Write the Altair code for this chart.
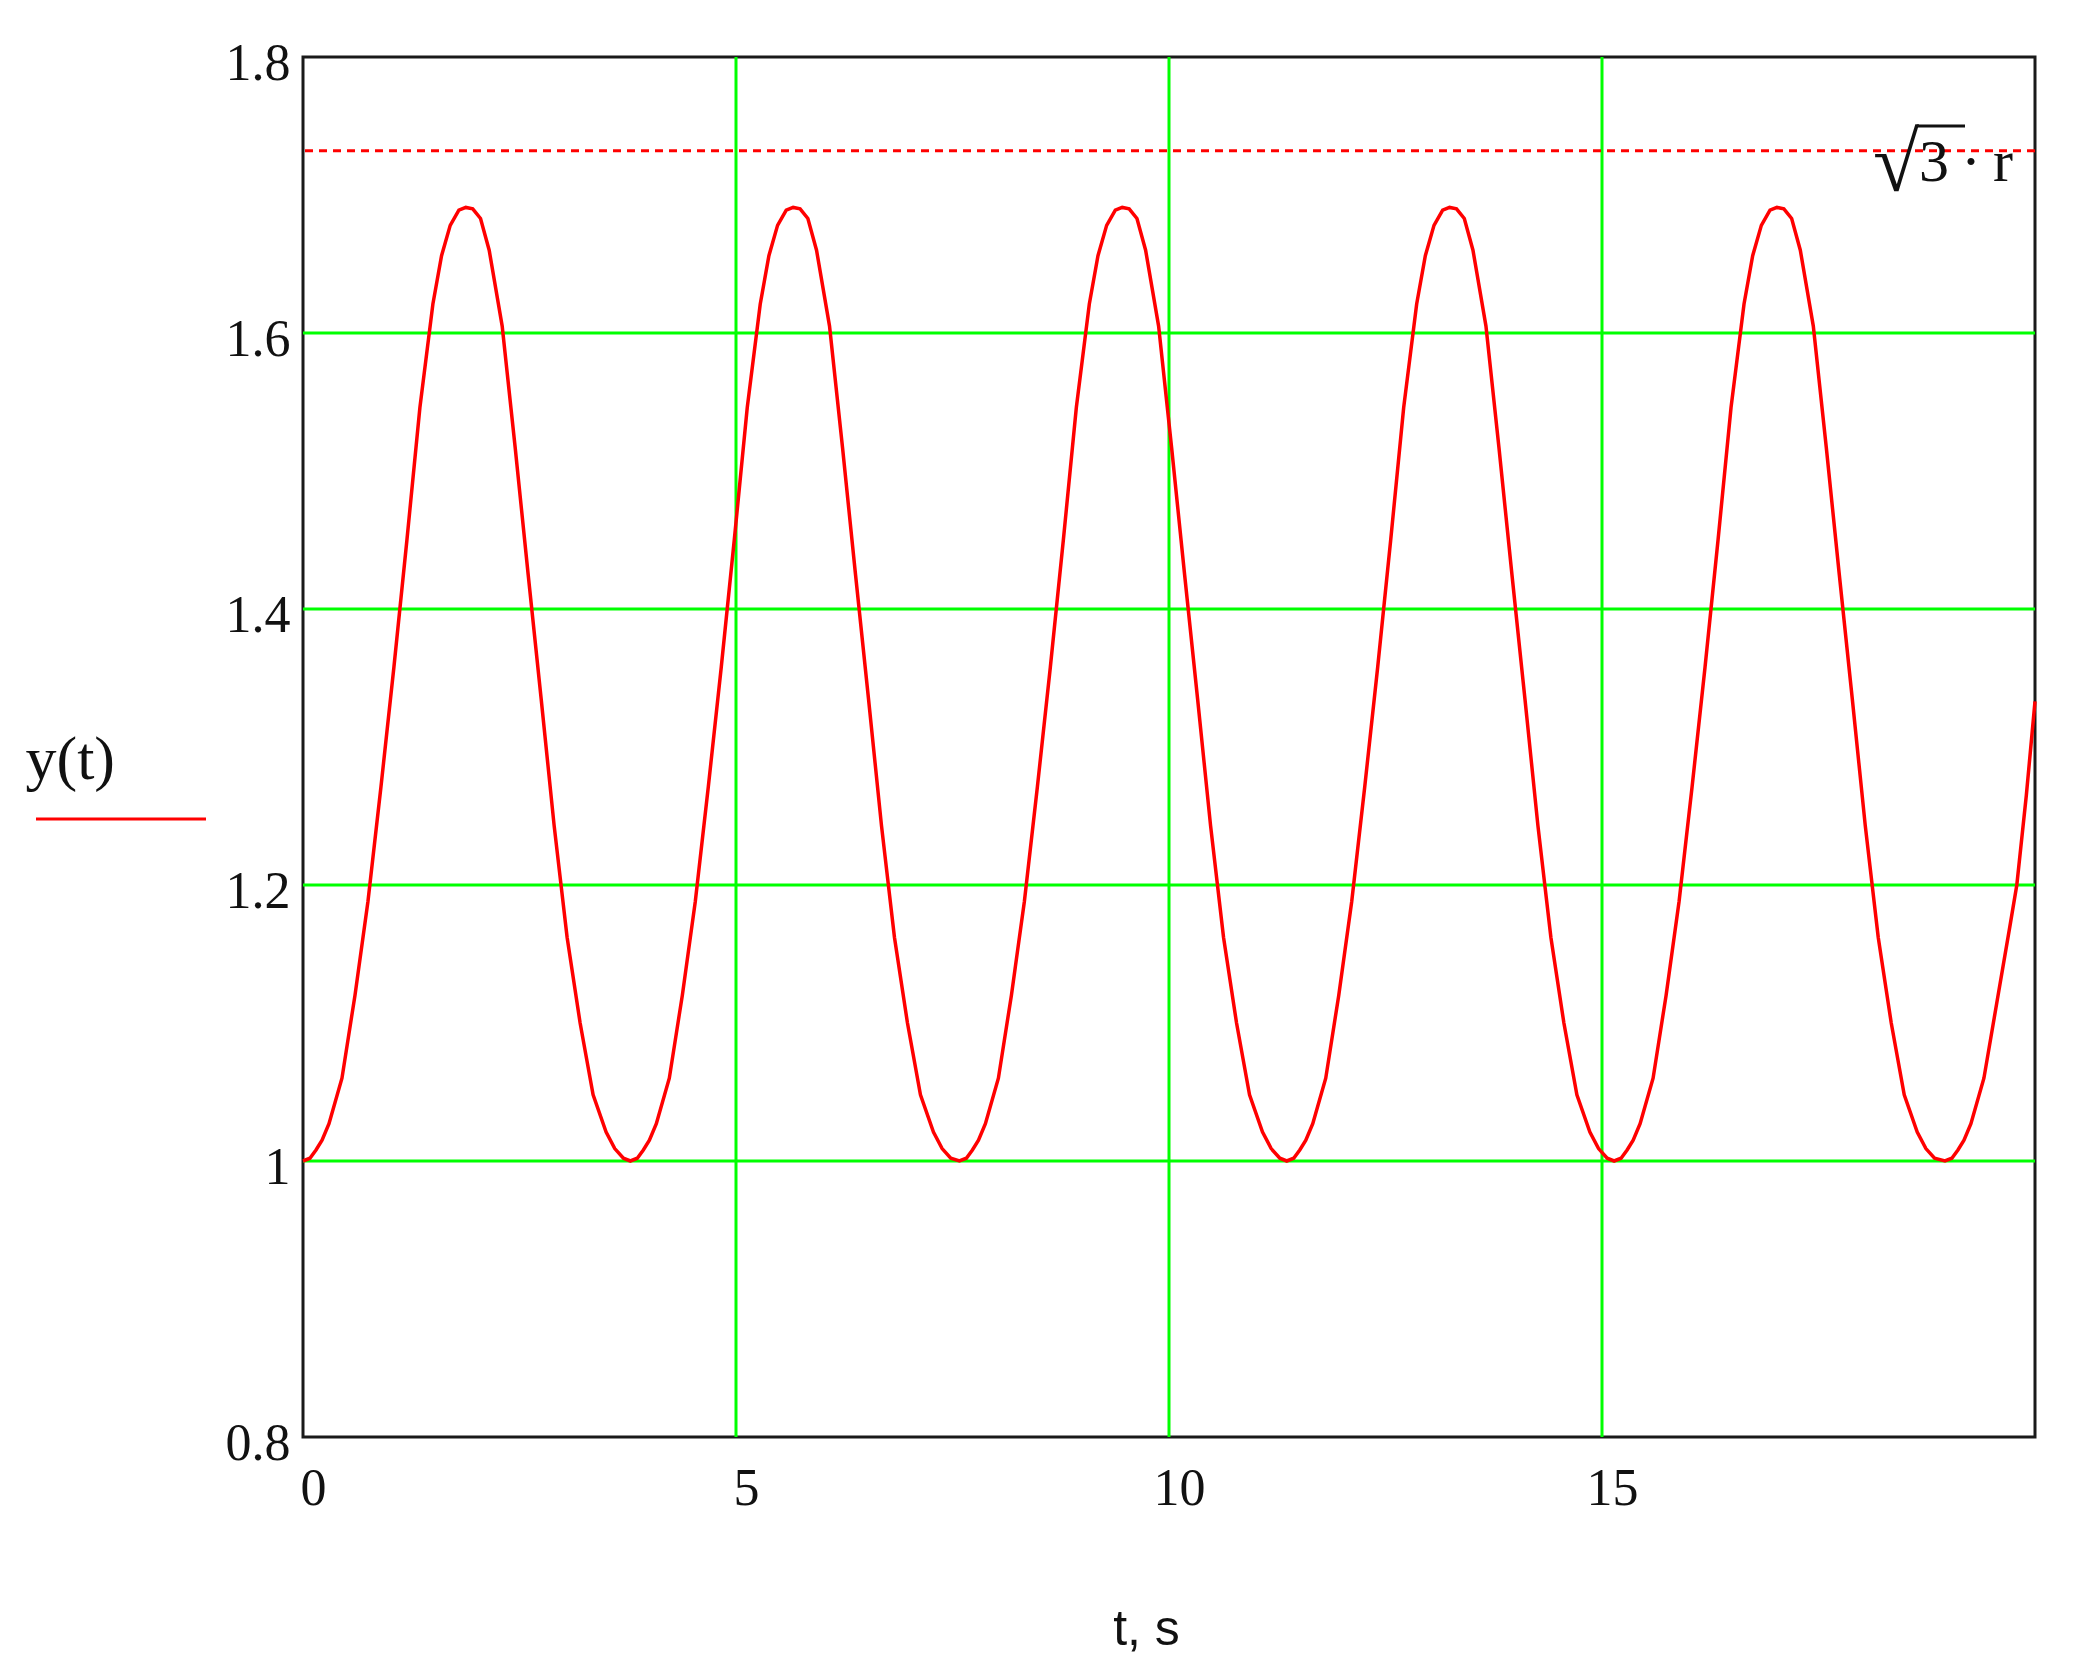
import altair as alt
import pandas as pd

# y(t) (cycle minima near 0, 3.78, 7.58, 11.36, 15.14, 18.96)
t_vals = [
    0.00, 0.08, 0.15, 0.22, 0.30, 0.45, 0.60, 0.75, 0.90, 1.05, 1.20, 1.35, 1.50, 1.60, 1.70, 1.80, 1.88, 1.96, 2.05, 2.15, 2.30, 2.45, 2.60, 2.75, 2.90, 3.05, 3.20, 3.35, 3.50, 3.60, 3.70,
    3.78, 3.86, 3.93, 4.00, 4.08, 4.23, 4.38, 4.53, 4.68, 4.83, 4.98, 5.13, 5.28, 5.38, 5.48, 5.58, 5.66, 5.74, 5.83, 5.93, 6.08, 6.23, 6.38, 6.53, 6.68, 6.83, 6.98, 7.13, 7.28, 7.38, 7.48,
    7.58, 7.66, 7.73, 7.80, 7.88, 8.03, 8.18, 8.33, 8.48, 8.63, 8.78, 8.93, 9.08, 9.18, 9.28, 9.38, 9.46, 9.54, 9.63, 9.73, 9.88, 10.03, 10.18, 10.33, 10.48, 10.63, 10.78, 10.93, 11.08, 11.18, 11.28,
    11.36, 11.44, 11.51, 11.58, 11.66, 11.81, 11.96, 12.11, 12.26, 12.41, 12.56, 12.71, 12.86, 12.96, 13.06, 13.16, 13.24, 13.32, 13.41, 13.51, 13.66, 13.81, 13.96, 14.11, 14.26, 14.41, 14.56, 14.71, 14.86, 14.96, 15.06,
    15.14, 15.22, 15.29, 15.36, 15.44, 15.59, 15.74, 15.89, 16.04, 16.19, 16.34, 16.49, 16.64, 16.74, 16.84, 16.94, 17.02, 17.10, 17.19, 17.29, 17.44, 17.59, 17.74, 17.89, 18.04, 18.19, 18.34, 18.49, 18.64, 18.74, 18.84,
    18.96, 19.04, 19.11, 19.18, 19.26, 19.41, 19.56, 19.71, 19.79, 19.90, 20.00,
]
y_vals = [
    1.000, 1.002, 1.008, 1.015, 1.027, 1.060, 1.120, 1.188, 1.271, 1.358, 1.450, 1.546, 1.621, 1.656, 1.678, 1.689, 1.691, 1.690, 1.683, 1.660, 1.605, 1.517, 1.425, 1.335, 1.243, 1.162, 1.100, 1.048, 1.021, 1.009, 1.002,
    1.000, 1.002, 1.008, 1.015, 1.027, 1.060, 1.120, 1.188, 1.271, 1.358, 1.450, 1.546, 1.621, 1.656, 1.678, 1.689, 1.691, 1.690, 1.683, 1.660, 1.605, 1.517, 1.425, 1.335, 1.243, 1.162, 1.100, 1.048, 1.021, 1.009, 1.002,
    1.000, 1.002, 1.008, 1.015, 1.027, 1.060, 1.120, 1.188, 1.271, 1.358, 1.450, 1.546, 1.621, 1.656, 1.678, 1.689, 1.691, 1.690, 1.683, 1.660, 1.605, 1.517, 1.425, 1.335, 1.243, 1.162, 1.100, 1.048, 1.021, 1.009, 1.002,
    1.000, 1.002, 1.008, 1.015, 1.027, 1.060, 1.120, 1.188, 1.271, 1.358, 1.450, 1.546, 1.621, 1.656, 1.678, 1.689, 1.691, 1.690, 1.683, 1.660, 1.605, 1.517, 1.425, 1.335, 1.243, 1.162, 1.100, 1.048, 1.021, 1.009, 1.002,
    1.000, 1.002, 1.008, 1.015, 1.027, 1.060, 1.120, 1.188, 1.271, 1.358, 1.450, 1.546, 1.621, 1.656, 1.678, 1.689, 1.691, 1.690, 1.683, 1.660, 1.605, 1.517, 1.425, 1.335, 1.243, 1.162, 1.100, 1.048, 1.021, 1.009, 1.002,
    1.000, 1.002, 1.008, 1.015, 1.027, 1.060, 1.115, 1.170, 1.200, 1.265, 1.333,
]

grid_x = [5, 10, 15]
grid_y = [1.0, 1.2, 1.4, 1.6]
x_ticks = [0, 5, 10, 15]
y_ticks = [0.8, 1.0, 1.2, 1.4, 1.6, 1.8]
limit_value = [1.732]
radical_label = ["√"]
limit_label = ["3\u2009·\u2009r"]

curve_df = pd.DataFrame({"t": t_vals, "y": y_vals})
gx_df = pd.DataFrame({"t": grid_x})
gy_df = pd.DataFrame({"y": grid_y})
lim_df = pd.DataFrame({"y": limit_value, "label": limit_label, "rad": radical_label, "t": [20]})

x_scale = alt.Scale(domain=[0, 20], nice=False, zero=False)
y_scale = alt.Scale(domain=[0.8, 1.8], nice=False, zero=False)

x_axis = alt.Axis(
    values=x_ticks, grid=False, ticks=False, domain=False, format="~g",
    labelFont="Liberation Serif", labelFontSize=52, labelColor="#111111",
    labelBaseline="top", labelPadding=26, labelOffset=10, labelFlush=False,
    title="t, s", titleFont="Liberation Sans", titleFontSize=50, titleFontWeight="normal",
    titleColor="#111111", titleX=843, titleY=207, titleAlign="center", titleBaseline="alphabetic",
)
y_axis = alt.Axis(
    values=y_ticks, grid=False, ticks=False, domain=False, format="~g",
    labelFont="Liberation Serif", labelFontSize=52, labelColor="#111111",
    labelPadding=13, labelOffset=6, labelFlush=False,
    title="y(t)", titleFont="Liberation Serif", titleFontSize=62, titleFontWeight="normal",
    titleColor="#111111", titleAngle=0, titleX=-278, titleY=721,
    titleAlign="left", titleBaseline="alphabetic",
)

gx = alt.Chart(gx_df).mark_rule(color="#00ff00", strokeWidth=3).encode(
    x=alt.X("t:Q", scale=x_scale, axis=x_axis)
)
gy = alt.Chart(gy_df).mark_rule(color="#00ff00", strokeWidth=3).encode(
    y=alt.Y("y:Q", scale=y_scale, axis=y_axis)
)
lim = alt.Chart(lim_df).mark_rule(color="#ff0000", strokeWidth=3, strokeDash=[8, 6]).encode(
    y=alt.Y("y:Q", scale=y_scale)
)
lim_text = alt.Chart(lim_df).mark_text(
    font="Liberation Serif", fontSize=60, color="#111111",
    align="right", baseline="alphabetic", dx=-22, dy=30,
).encode(
    x=alt.X("t:Q", scale=x_scale), y=alt.Y("y:Q", scale=y_scale), text="label:N"
)
rad_text = alt.Chart(lim_df).mark_text(
    font="Liberation Serif", fontSize=84, color="#111111",
    align="right", baseline="alphabetic", dx=-116, dy=40,
).encode(
    x=alt.X("t:Q", scale=x_scale), y=alt.Y("y:Q", scale=y_scale), text="rad:N"
)
rad_bar = alt.Chart(lim_df).mark_rule(color="#111111", strokeWidth=3).encode(
    x=alt.value(1614), x2=alt.value(1662), y=alt.value(69)
)
curve = alt.Chart(curve_df).mark_line(color="#ff0000", strokeWidth=3.5).encode(
    x=alt.X("t:Q", scale=x_scale), y=alt.Y("y:Q", scale=y_scale)
)
legend_line = alt.Chart(lim_df).mark_rule(color="#ff0000", strokeWidth=3).encode(
    x=alt.value(-267), x2=alt.value(-97), y=alt.value(762)
)

chart = alt.layer(gx, gy, lim, curve, lim_text, rad_text, rad_bar, legend_line).properties(
    width=1732, height=1380,
    autosize=alt.AutoSizeParams(type="none"),
    padding={"left": 295, "top": 49, "right": 30, "bottom": 220},
).configure(
    background="white",
    view=alt.ViewConfig(stroke="#1a1a1a", strokeWidth=3),
)

chart.save("out.html", embed_options={"renderer": "svg", "actions": False})
